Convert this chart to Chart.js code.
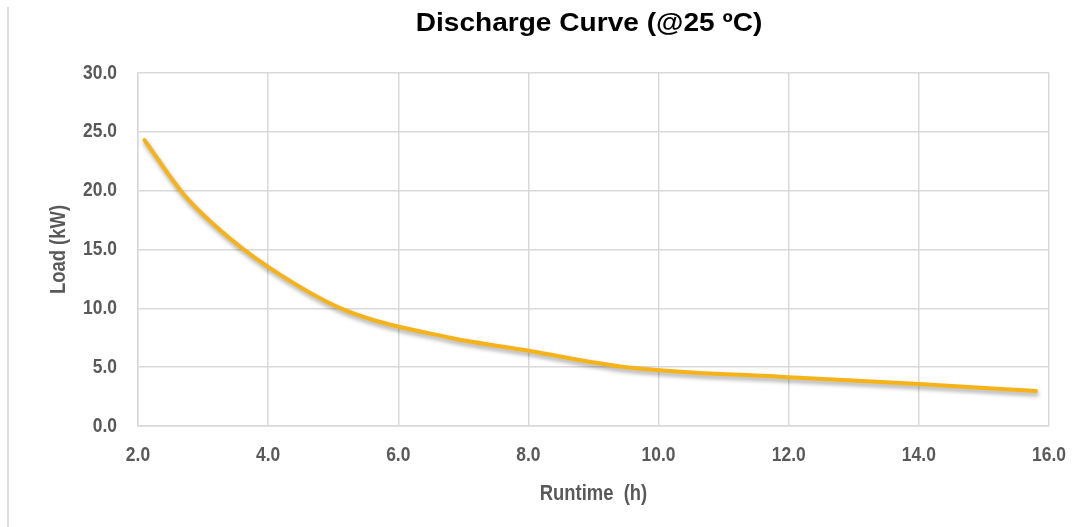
<!DOCTYPE html>
<html>
<head>
<meta charset="utf-8">
<script src="https://cdn.jsdelivr.net/npm/chart.js@4/dist/chart.umd.min.js"></script>
<style>
  html, body { margin: 0; padding: 0; background: #ffffff; }
  #wrap { position: relative; width: 1090px; height: 527px; }
  #edge { position: absolute; left: 7px; top: 7px; width: 0; height: 520px; border-left: 2px solid #dcdcdc; }
  canvas { position: absolute; left: 0; top: 0; }
</style>
</head>
<body>
<div id="wrap">
  <div id="edge"></div>
  <canvas id="c" width="1090" height="527"></canvas>
</div>
<script>
const runtimeHours = [2.1, 2.7, 3.4, 4.2, 5.2, 6.8, 8.0, 9.5, 12.0, 14.0, 15.8];
const loadKW      = [24.3, 19.7, 16.0, 12.8, 9.8, 7.5, 6.4, 5.0, 4.15, 3.56, 2.97];
const chartTitle = 'Discharge Curve (@25 ºC)';
const xAxisTitle = 'Runtime  (h)';
const yAxisTitle = 'Load (kW)';

const sans = '"Liberation Sans", Arial, sans-serif';
const tickColor = '#595959';
const gridColor = '#d9d9d9';

// Axis text in the reference is slightly taller than normal Arial: stretch it vertically.
const tallTextPlugin = {
  id: 'tallText',
  beforeDraw(chart) {
    const ctx = chart.ctx;
    const orig = ctx.fillText;
    ctx._origFillText = orig;
    ctx.fillText = function (text, x, y, maxWidth) {
      this.save();
      this.translate(x, y);
      this.scale(0.97, 1.14);
      if (maxWidth === undefined) orig.call(this, text, 0, 0);
      else orig.call(this, text, 0, 0, maxWidth);
      this.restore();
    };
  },
  beforeDatasetsDraw(chart) {
    const ctx = chart.ctx;
    if (ctx._origFillText) {
      ctx.fillText = ctx._origFillText;
      delete ctx._origFillText;
    }
  }
};

const shadowPlugin = {
  id: 'lineShadow',
  beforeDatasetsDraw(chart) {
    const ctx = chart.ctx;
    ctx.save();
    ctx.shadowColor = 'rgba(0,0,0,0.35)';
    ctx.shadowBlur = 4;
    ctx.shadowOffsetX = 1;
    ctx.shadowOffsetY = 3;
  },
  afterDatasetsDraw(chart) {
    chart.ctx.restore();
  }
};

const titlePlugin = {
  id: 'wideTitle',
  afterDraw(chart) {
    const ctx = chart.ctx;
    ctx.save();
    ctx.fillStyle = '#000000';
    ctx.font = 'bold 27px ' + sans;
    ctx.textAlign = 'center';
    ctx.textBaseline = 'alphabetic';
    ctx.translate(589, 31);
    ctx.scale(1.04, 0.97);
    ctx.fillText(chartTitle, 0, 0);
    ctx.restore();
  }
};

new Chart(document.getElementById('c'), {
  type: 'line',
  data: {
    datasets: [{
      data: runtimeHours.map((x, i) => ({ x: x, y: loadKW[i] })),
      borderColor: '#F5B317',
      borderWidth: 4,
      pointRadius: 0,
      fill: false,
      cubicInterpolationMode: 'monotone',
      borderCapStyle: 'round'
    }]
  },
  plugins: [tallTextPlugin, shadowPlugin, titlePlugin],
  options: {
    responsive: false,
    animation: false,
    devicePixelRatio: 1,
    layout: { padding: { left: 0, right: 41, top: 73, bottom: 0 } },
    plugins: {
      legend: { display: false },
      tooltip: { enabled: false },
      title: { display: false }
    },
    scales: {
      x: {
        type: 'linear',
        min: 2, max: 16,
        afterFit(scale) { scale.height = 101; },
        ticks: {
          stepSize: 2,
          color: tickColor,
          padding: 19,
          font: { family: sans, size: 18, weight: 'bold', lineHeight: 1.2 },
          callback: v => Number(v).toFixed(1)
        },
        grid: { color: gridColor, lineWidth: 1.5, drawTicks: false },
        border: { color: gridColor, width: 1.5 },
        title: {
          display: true,
          text: xAxisTitle,
          color: tickColor,
          font: { family: sans, size: 19, weight: 'bold', lineHeight: 1.2 },
          padding: { top: 0, bottom: 22 }
        }
      },
      y: {
        type: 'linear',
        min: 0, max: 30,
        afterFit(scale) { scale.width = 138; },
        ticks: {
          stepSize: 5,
          color: tickColor,
          padding: 21,
          font: { family: sans, size: 18, weight: 'bold', lineHeight: 1.2 },
          callback: v => Number(v).toFixed(1)
        },
        grid: { color: gridColor, lineWidth: 1.5, drawTicks: false },
        border: { color: gridColor, width: 1.5 },
        title: {
          display: true,
          text: yAxisTitle,
          color: tickColor,
          font: { family: sans, size: 19, weight: 'bold', lineHeight: 1.2 },
          padding: { top: 48, bottom: 0 }
        }
      }
    }
  }
});
</script>
</body>
</html>
